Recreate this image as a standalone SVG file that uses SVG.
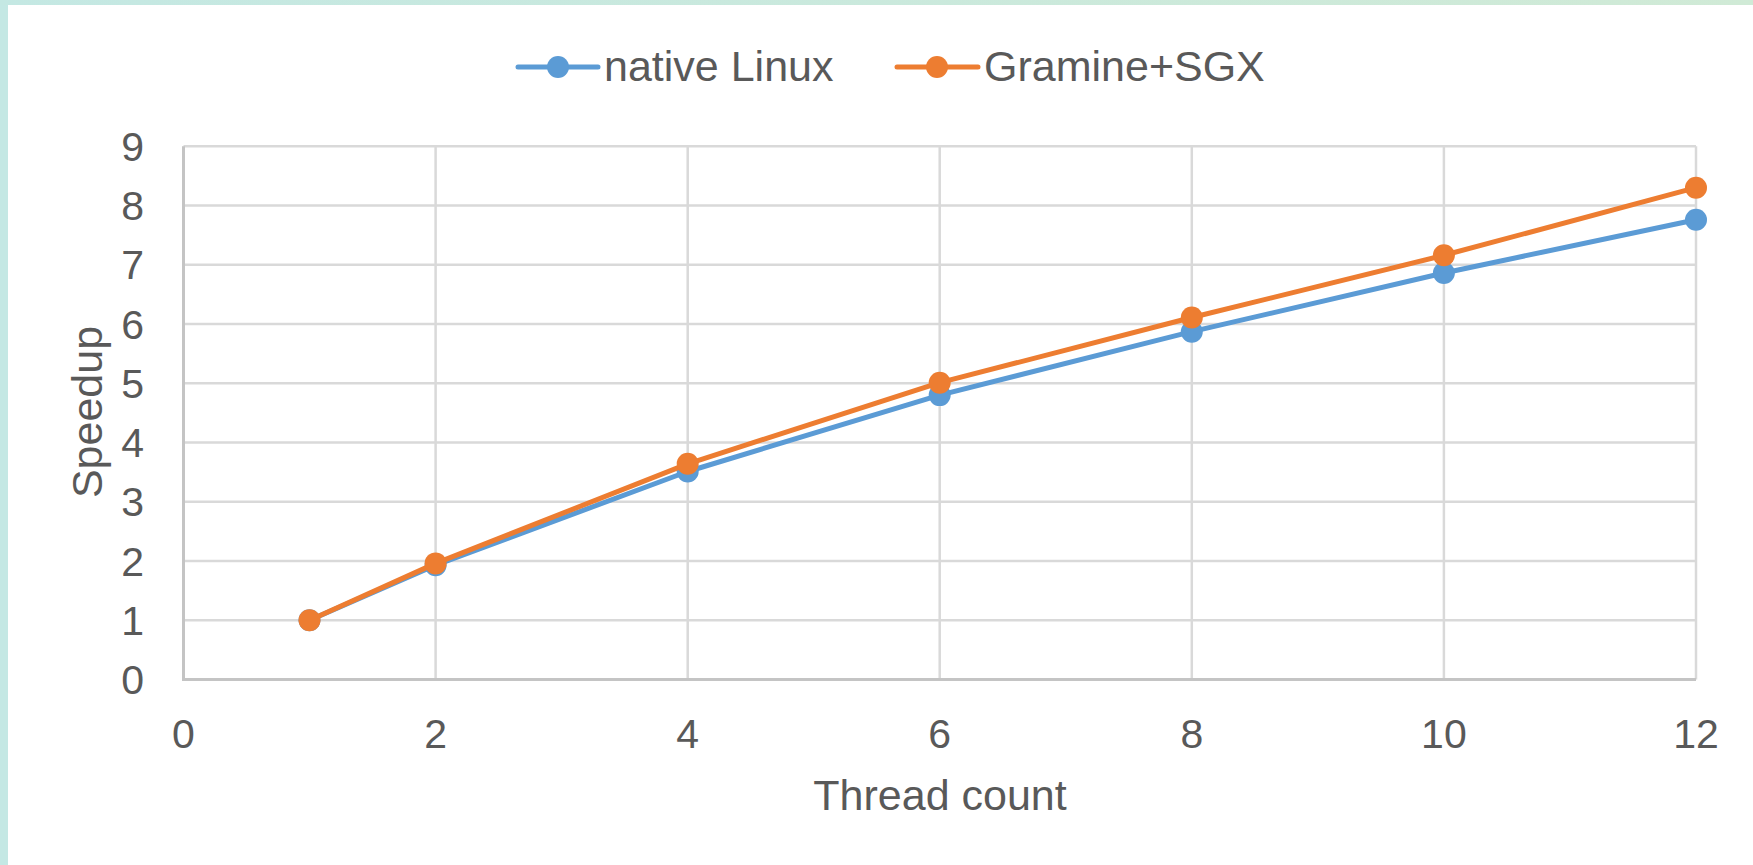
<svg xmlns="http://www.w3.org/2000/svg" width="1753" height="865" viewBox="0 0 1753 865">
  <defs>
    <linearGradient id="topBand" x1="0" y1="0" x2="1" y2="0">
      <stop offset="0" stop-color="#c4e8e3"/>
      <stop offset="1" stop-color="#d0ead6"/>
    </linearGradient>
    <style>
      .grid { stroke: #d9d9d9; stroke-width: 2.5; fill: none; }
      .axis { stroke: #c4c4c4; stroke-width: 3; fill: none; }
      .tick { font-family: "Liberation Sans", Arial, sans-serif; font-size: 41px; fill: #595959; }
      .title { font-family: "Liberation Sans", Arial, sans-serif; font-size: 43px; fill: #595959; }
      .native { stroke: #5b9bd5; fill: none; stroke-width: 5; stroke-linejoin: round; stroke-linecap: round; }
      .gramine { stroke: #ed7d31; fill: none; stroke-width: 5; stroke-linejoin: round; stroke-linecap: round; }
      .native-dot { fill: #5b9bd5; }
      .gramine-dot { fill: #ed7d31; }
    </style>
  </defs>

  <!-- background and frame bands -->
  <rect x="0" y="0" width="1753" height="865" fill="#ffffff"/>
  <rect x="0" y="0" width="8" height="865" fill="#c4e8e4"/>
  <rect x="0" y="0" width="1753" height="5" fill="url(#topBand)"/>

  <!-- grid -->
  <g id="grid">
    <path class="grid" d="M435.6 146.25V679.5M687.7 146.25V679.5M939.7 146.25V679.5M1191.8 146.25V679.5M1443.9 146.25V679.5M1696 146.25V679.5"/>
    <path class="grid" d="M183.5 620.25H1696M183.5 561H1696M183.5 501.75H1696M183.5 442.5H1696M183.5 383.25H1696M183.5 324H1696M183.5 264.75H1696M183.5 205.5H1696M183.5 146.25H1696"/>
    <path class="axis" d="M183.5 146.25V679.5H1696"/>
  </g>

  <!-- y-axis ticks -->
  <g id="y-ticks" class="tick" text-anchor="end">
    <text x="144" y="694">0</text>
    <text x="144" y="634.75">1</text>
    <text x="144" y="575.5">2</text>
    <text x="144" y="516.25">3</text>
    <text x="144" y="457">4</text>
    <text x="144" y="397.75">5</text>
    <text x="144" y="338.5">6</text>
    <text x="144" y="279.25">7</text>
    <text x="144" y="220">8</text>
    <text x="144" y="160.75">9</text>
  </g>

  <!-- x-axis ticks -->
  <g id="x-ticks" class="tick" text-anchor="middle">
    <text x="183.5" y="748">0</text>
    <text x="435.6" y="748">2</text>
    <text x="687.7" y="748">4</text>
    <text x="939.7" y="748">6</text>
    <text x="1191.8" y="748">8</text>
    <text x="1443.9" y="748">10</text>
    <text x="1696" y="748">12</text>
  </g>

  <!-- axis titles -->
  <g id="x-title"><text class="title" x="940" y="810" text-anchor="middle">Thread count</text></g>
  <g id="y-title"><text class="title" x="0" y="0" text-anchor="middle" transform="translate(102 412) rotate(-90)">Speedup</text></g>

  <!-- data series -->
  <g id="connectors">
    <polyline class="native" points="309.5,620.25 435.6,565.15 687.7,471.5 939.7,395.1 1191.8,331.7 1443.9,273 1696,219.7"/>
    <g id="native-markers" class="native-dot">
      <circle cx="309.5" cy="620.25" r="11"/>
      <circle cx="435.6" cy="565.15" r="11"/>
      <circle cx="687.7" cy="471.5" r="11"/>
      <circle cx="939.7" cy="395.1" r="11"/>
      <circle cx="1191.8" cy="331.7" r="11"/>
      <circle cx="1443.9" cy="273" r="11"/>
      <circle cx="1696" cy="219.7" r="11"/>
    </g>
    <polyline class="gramine" points="309.5,620.25 435.6,563.4 687.7,463.8 939.7,382.7 1191.8,317.5 1443.9,255.3 1696,187.7"/>
    <g id="gramine-markers" class="gramine-dot">
      <circle cx="309.5" cy="620.25" r="11"/>
      <circle cx="435.6" cy="563.4" r="11"/>
      <circle cx="687.7" cy="463.8" r="11"/>
      <circle cx="939.7" cy="382.7" r="11"/>
      <circle cx="1191.8" cy="317.5" r="11"/>
      <circle cx="1443.9" cy="255.3" r="11"/>
      <circle cx="1696" cy="187.7" r="11"/>
    </g>
  </g>

  <!-- legend -->
  <g id="legend-native">
    <line class="native" x1="518" y1="67" x2="598" y2="67"/>
    <circle class="native-dot" cx="558" cy="67" r="11"/>
    <text class="title" x="604" y="81">native Linux</text>
  </g>
  <g id="legend-gramine">
    <line class="gramine" x1="897" y1="67" x2="978" y2="67"/>
    <circle class="gramine-dot" cx="937" cy="67" r="11"/>
    <text class="title" x="984" y="81">Gramine+SGX</text>
  </g>
</svg>
